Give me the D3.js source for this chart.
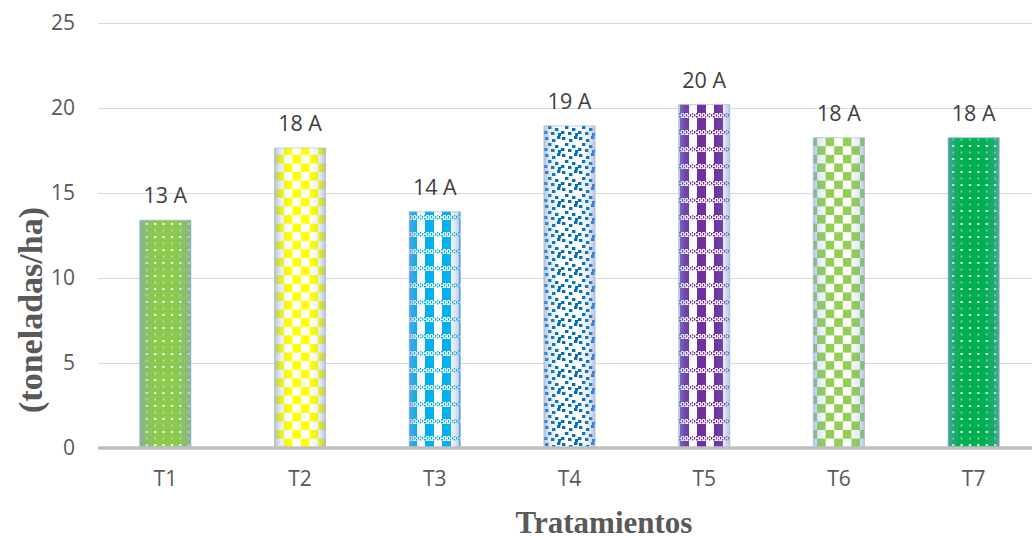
<!DOCTYPE html>
<html>
<head>
<meta charset="utf-8">
<script src="https://cdn.jsdelivr.net/npm/d3@7"></script>
<style>
  html, body { margin: 0; padding: 0; background: #fff; }
  svg { display: block; }
</style>
</head>
<body>
<svg id="chart" width="1032" height="541"></svg>
<script>
// Rendimiento por tratamiento (toneladas/ha)
const categories = ["T1", "T2", "T3", "T4", "T5", "T6", "T7"];
const values = [13.4, 17.65, 13.9, 18.95, 20.2, 18.25, 18.25];
const groups = ["A", "A", "A", "A", "A", "A", "A"];
const yTicks = [0, 5, 10, 15, 20, 25];

const svg = d3.select("#chart");
const margin = { left: 98, right: -9, top: 23, bottom: 93 };
const W = 1032, H = 541;
const labelFont = "'Open Sans', sans-serif";
const titleFont = "'Liberation Serif', 'Times New Roman', serif";

const x = d3.scaleBand()
  .domain(categories)
  .range([margin.left, W - margin.right])
  .paddingInner(0.62)
  .paddingOuter(0.31);

const y = d3.scaleLinear()
  .domain([0, 25])
  .range([H - margin.bottom, margin.top]);

const defs = svg.append("defs");

// --- fill patterns, one per treatment ---
function dotPattern(id, bg, dot) {
  const p = defs.append("pattern").attr("id", id)
    .attr("patternUnits", "userSpaceOnUse").attr("width", 8.4).attr("height", 13);
  p.append("rect").attr("width", 8.4).attr("height", 13).attr("fill", bg);
  p.append("rect").attr("x", 3).attr("y", 2).attr("width", 2).attr("height", 2).attr("fill", dot);
  p.append("rect").attr("x", 3.5).attr("y", 8.5).attr("width", 1).attr("height", 2).attr("fill", dot).attr("opacity", 0.8);
}
function checkerPattern(id, c1, c2, s) {
  const p = defs.append("pattern").attr("id", id)
    .attr("patternUnits", "userSpaceOnUse").attr("width", 2 * s).attr("height", 2 * s);
  p.append("rect").attr("width", 2 * s).attr("height", 2 * s).attr("fill", c2);
  p.append("rect").attr("width", s).attr("height", s).attr("fill", c1);
  p.append("rect").attr("x", s).attr("y", s).attr("width", s).attr("height", s).attr("fill", c1);
}
function plaidPattern(id, c) {
  const s = 17;
  const p = defs.append("pattern").attr("id", id)
    .attr("patternUnits", "userSpaceOnUse").attr("width", s).attr("height", s);
  p.append("rect").attr("width", s).attr("height", s).attr("fill", "#ffffff");
  p.append("rect").attr("x", 0).attr("y", 0).attr("width", 9).attr("height", s).attr("fill", c);
  // horizontal band of small checks
  p.append("rect").attr("x", 0).attr("y", 11).attr("width", s).attr("height", 5).attr("fill", "#ffffff");
  for (let i = 0; i < s; i += 2) {
    p.append("rect").attr("x", i).attr("y", (i / 2) % 2 === 0 ? 11 : 13).attr("width", 1.2).attr("height", 1.5).attr("fill", c);
    p.append("rect").attr("x", i).attr("y", (i / 2) % 2 === 0 ? 14 : 12).attr("width", 1.2).attr("height", 1.5).attr("fill", c);
  }
}
function squaresPattern(id, c) {
  const s = 17;
  const p = defs.append("pattern").attr("id", id)
    .attr("patternUnits", "userSpaceOnUse").attr("width", s).attr("height", s);
  p.append("rect").attr("width", s).attr("height", s).attr("fill", "#ffffff");
  const sq = [[1, 1], [8, 3], [13, 0], [4, 7], [11, 9], [0, 12], [7, 13], [14, 14]];
  sq.forEach(([a, b]) => p.append("rect").attr("x", a).attr("y", b).attr("width", 3.4).attr("height", 3).attr("fill", c));
}

dotPattern("p1", "#8cc94f", "#ffffff");
checkerPattern("p2", "#ffff00", "#ffffff", 8.6);
plaidPattern("p3", "#00b0f0");
squaresPattern("p4", "#0070c0");
plaidPattern("p5", "#7030a0");
checkerPattern("p6", "#92d050", "#ffffff", 8.6);
dotPattern("p7", "#00b050", "#ffffff");

const patternIds = ["p1", "p2", "p3", "p4", "p5", "p6", "p7"];

// soft shading along the bar edges
const edge = defs.append("linearGradient").attr("id", "edge")
  .attr("x1", "0").attr("x2", "1").attr("y1", "0").attr("y2", "0");
[[0, 0.6], [0.12, 0.2], [0.3, 0], [0.7, 0], [0.88, 0.2], [1, 0.6]].forEach(([o, a]) =>
  edge.append("stop").attr("offset", o).attr("stop-color", "#7f9fd0").attr("stop-opacity", a));

// --- gridlines ---
svg.append("g")
  .selectAll("line")
  .data(yTicks.filter(d => d > 0))
  .join("line")
  .attr("x1", margin.left).attr("x2", W)
  .attr("y1", d => Math.round(y(d)) + 0.5).attr("y2", d => Math.round(y(d)) + 0.5)
  .attr("stroke", "#d9d9d9").attr("stroke-width", 1);

// --- y axis labels ---
const yAxis = svg.append("g")
  .attr("transform", `translate(${margin.left},0)`)
  .call(d3.axisLeft(y).tickValues(yTicks).tickSize(0).tickPadding(23));
yAxis.select(".domain").remove();
yAxis.selectAll("text")
  .attr("font-family", labelFont)
  .attr("font-size", 21).attr("fill", "#595959");

// --- bars ---
const bars = svg.append("g");
bars.selectAll("rect.bar")
  .data(categories)
  .join("rect").attr("class", "bar")
  .attr("x", d => x(d)).attr("width", x.bandwidth())
  .attr("y", (d, i) => y(values[i]))
  .attr("height", (d, i) => y(0) - y(values[i]))
  .attr("fill", (d, i) => `url(#${patternIds[i]})`);
bars.selectAll("rect.shade")
  .data(categories)
  .join("rect").attr("class", "shade")
  .attr("x", d => x(d)).attr("width", x.bandwidth())
  .attr("y", (d, i) => y(values[i]))
  .attr("height", (d, i) => y(0) - y(values[i]))
  .attr("fill", "url(#edge)")
  .attr("stroke", "#9fb4dc").attr("stroke-opacity", 0.6).attr("stroke-width", 1);

// --- value labels ---
const fmt = d3.format(".0f");
svg.append("g")
  .selectAll("text")
  .data(categories)
  .join("text")
  .attr("x", d => x(d) + x.bandwidth() / 2)
  .attr("y", (d, i) => y(values[i]) - 17)
  .attr("text-anchor", "middle")
  .attr("font-family", labelFont)
  .attr("font-size", 21.5).attr("fill", "#404040")
  .text((d, i) => `${fmt(values[i])} ${groups[i]}`);

// --- x axis ---
svg.append("line")
  .attr("x1", margin.left).attr("x2", W)
  .attr("y1", y(0)).attr("y2", y(0))
  .attr("stroke", "#bfbfbf").attr("stroke-width", 3.5);

const xAxis = svg.append("g")
  .attr("transform", `translate(0,${y(0)})`)
  .call(d3.axisBottom(x).tickSize(0));
xAxis.select(".domain").remove();
xAxis.selectAll("text")
  .attr("y", 38).attr("dy", 0)
  .attr("font-family", labelFont)
  .attr("font-size", 21).attr("fill", "#595959");

// --- axis titles ---
svg.append("text")
  .attr("transform", `translate(42,310) rotate(-90)`)
  .attr("text-anchor", "middle")
  .attr("font-family", titleFont)
  .attr("font-weight", "bold").attr("font-size", 34).attr("fill", "#595959")
  .text("(toneladas/ha)");

svg.append("text")
  .attr("x", 604).attr("y", 533)
  .attr("text-anchor", "middle")
  .attr("font-family", titleFont)
  .attr("font-weight", "bold").attr("font-size", 31).attr("fill", "#595959")
  .text("Tratamientos");
</script>
</body>
</html>
